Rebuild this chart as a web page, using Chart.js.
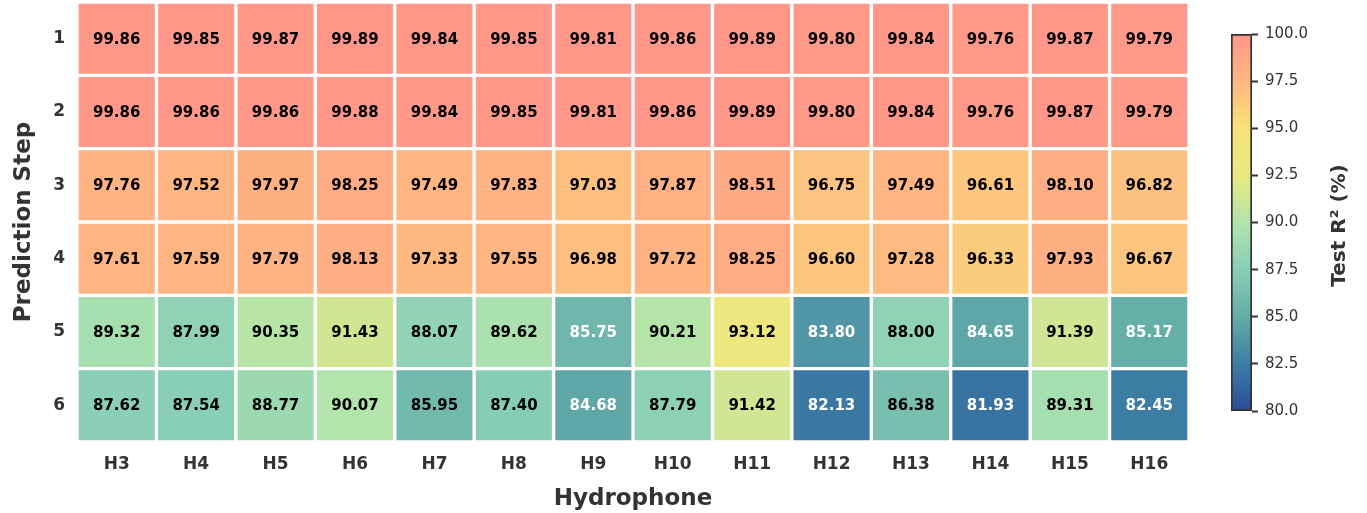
<!DOCTYPE html>
<html>
<head>
<meta charset="utf-8">
<script src="https://cdn.jsdelivr.net/npm/chart.js@4.4.1/dist/chart.umd.min.js"></script>
<style>
  html, body { margin: 0; padding: 0; background: #fff; }
  #wrap { position: relative; width: 1367px; height: 513px; }
  #heat { position: absolute; left: 0; top: 0; }
  #cbar { position: absolute; left: 1226px; top: 22px; }
</style>
</head>
<body>
<div id="wrap">
  <canvas id="heat" width="1367" height="513"></canvas>
  <canvas id="cbar" width="141" height="400"></canvas>
</div>
<script>
// Hydrophones (columns) and prediction steps (rows)
const hydrophones = ['H3', 'H4', 'H5', 'H6', 'H7', 'H8', 'H9', 'H10', 'H11', 'H12', 'H13', 'H14', 'H15', 'H16'];
const steps = [1, 2, 3, 4, 5, 6];

// Test R² (%) per prediction step, one value per hydrophone
const step1 = [99.86, 99.85, 99.87, 99.89, 99.84, 99.85, 99.81, 99.86, 99.89, 99.80, 99.84, 99.76, 99.87, 99.79];
const step2 = [99.86, 99.86, 99.86, 99.88, 99.84, 99.85, 99.81, 99.86, 99.89, 99.80, 99.84, 99.76, 99.87, 99.79];
const step3 = [97.76, 97.52, 97.97, 98.25, 97.49, 97.83, 97.03, 97.87, 98.51, 96.75, 97.49, 96.61, 98.10, 96.82];
const step4 = [97.61, 97.59, 97.79, 98.13, 97.33, 97.55, 96.98, 97.72, 98.25, 96.60, 97.28, 96.33, 97.93, 96.67];
const step5 = [89.32, 87.99, 90.35, 91.43, 88.07, 89.62, 85.75, 90.21, 93.12, 83.80, 88.00, 84.65, 91.39, 85.17];
const step6 = [87.62, 87.54, 88.77, 90.07, 85.95, 87.40, 84.68, 87.79, 91.42, 82.13, 86.38, 81.93, 89.31, 82.45];
const stepValues = [step1, step2, step3, step4, step5, step6];

// Colour scale
const cbMin = 80;
const cbMax = 100;
const cbTicks = [80, 82.5, 85, 87.5, 90, 92.5, 95, 97.5, 100];
const cmapLevels = [80, 82.5, 85, 87.5, 90, 92.5, 95, 97.5, 100];
const cmapColors = [
  [44, 76, 150],
  [60, 126, 164],
  [100, 172, 167],
  [136, 206, 182],
  [176, 228, 172],
  [234, 232, 128],
  [247, 226, 122],
  [255, 182, 130],
  [255, 150, 137]
];
const cbTitleText = 'Test R\u00B2 (%)';

function cmap(v) {
  const x = Math.min(cbMax, Math.max(cbMin, v));
  for (let i = 0; i < cmapLevels.length - 1; i++) {
    const a = cmapLevels[i], b = cmapLevels[i + 1];
    if (x <= b) {
      const t = (x - a) / (b - a);
      const c0 = cmapColors[i], c1 = cmapColors[i + 1];
      const c = c0.map((ch, k) => Math.round(ch + (c1[k] - ch) * t));
      return `rgb(${c[0]},${c[1]},${c[2]})`;
    }
  }
  const c = cmapColors[cmapColors.length - 1];
  return `rgb(${c[0]},${c[1]},${c[2]})`;
}

Chart.defaults.font.family = "'DejaVu Sans', sans-serif";
Chart.defaults.color = '#333';

// Fixed axis footprint, without the extra edge padding for tick labels
function fixSize(width, height) {
  return (s) => {
    if (width !== null) s.width = width;
    if (height !== null) s.height = height;
    s.paddingTop = 0; s.paddingBottom = 0; s.paddingLeft = 0; s.paddingRight = 0;
  };
}

// Value text centred in each cell
const cellLabels = {
  id: 'cellLabels',
  afterDatasetsDraw(chart) {
    const ctx = chart.ctx;
    ctx.save();
    ctx.font = "bold 15px 'DejaVu Sans', sans-serif";
    ctx.textAlign = 'center';
    ctx.textBaseline = 'middle';
    chart.data.datasets.forEach((ds, di) => {
      chart.getDatasetMeta(di).data.forEach((bar, i) => {
        const v = ds.values[i];
        const p = bar.getCenterPoint();
        ctx.fillStyle = v < 85.9 ? '#ffffff' : '#000000';
        ctx.fillText(v.toFixed(2), p.x, p.y + 1);
      });
    });
    ctx.restore();
  }
};

const datasets = steps.map((s, r) => ({
  label: 'Step ' + s,
  values: stepValues[r],
  data: stepValues[r].map(() => [s - 0.5, s + 0.5]),
  backgroundColor: stepValues[r].map(cmap),
  borderColor: '#ffffff',
  borderWidth: 2,
  borderSkipped: false,
  grouped: false,
  barPercentage: 1,
  categoryPercentage: 1
}));

new Chart(document.getElementById('heat'), {
  type: 'bar',
  data: { labels: hydrophones, datasets },
  options: {
    responsive: false,
    animation: false,
    layout: { padding: { top: 2, right: 178, left: 0, bottom: 0 } },
    plugins: { legend: { display: false }, tooltip: { enabled: false } },
    scales: {
      x: {
        type: 'category',
        grid: { display: false, drawTicks: false },
        border: { display: false },
        ticks: { font: { size: 17, weight: 'bold' }, color: '#333', padding: 12, autoSkip: false, maxRotation: 0 },
        title: { display: true, text: 'Hydrophone', font: { size: 23, weight: 'bold' }, color: '#333', padding: { top: 0, bottom: 0 } },
        afterFit: fixSize(null, 71)
      },
      y: {
        type: 'linear',
        reverse: true,
        min: 0.5,
        max: 6.5,
        afterBuildTicks(s) { s.ticks = steps.map(v => ({ value: v })); },
        grid: { display: false, drawTicks: false },
        border: { display: false },
        ticks: { callback: v => String(v), font: { size: 17, weight: 'bold' }, color: '#333', padding: 12 },
        title: { display: true, text: 'Prediction Step', font: { size: 23, weight: 'bold' }, color: '#333', padding: { top: 10, bottom: 0 } },
        afterFit: fixSize(77, null)
      }
    }
  },
  plugins: [cellLabels]
});

// Colour bar: a single floating bar spanning the scale, filled with the colour map
const cbTitle = {
  id: 'cbTitle',
  afterDraw(chart) {
    const ctx = chart.ctx;
    const a = chart.chartArea;
    ctx.save();
    ctx.translate(114, (a.top + a.bottom) / 2 + 3);
    ctx.rotate(-Math.PI / 2);
    ctx.font = "bold 20px 'DejaVu Sans', sans-serif";
    ctx.fillStyle = '#333';
    ctx.textAlign = 'center';
    ctx.textBaseline = 'middle';
    ctx.fillText(cbTitleText, 0, 0);
    ctx.restore();
  }
};

function cbGradient(context) {
  const chart = context.chart;
  if (!chart.chartArea) return null;
  const ys = chart.scales.y;
  const y0 = ys.getPixelForValue(cbMin);
  const y1 = ys.getPixelForValue(cbMax);
  const g = chart.ctx.createLinearGradient(0, y0, 0, y1);
  cmapLevels.forEach(v => g.addColorStop((v - cbMin) / (cbMax - cbMin), cmap(v)));
  return g;
}

new Chart(document.getElementById('cbar'), {
  type: 'bar',
  data: {
    labels: [''],
    datasets: [{
      data: [[cbMin, cbMax]],
      backgroundColor: cbGradient,
      borderColor: '#333',
      borderWidth: 2,
      borderSkipped: false,
      barPercentage: 1,
      categoryPercentage: 1
    }]
  },
  options: {
    responsive: false,
    animation: false,
    layout: { padding: { left: 5, top: 12, bottom: 11, right: 0 } },
    plugins: { legend: { display: false }, tooltip: { enabled: false } },
    scales: {
      x: { display: false },
      y: {
        position: 'right',
        min: cbMin,
        max: cbMax,
        afterBuildTicks(s) { s.ticks = cbTicks.map(v => ({ value: v })); },
        ticks: { callback: v => v.toFixed(1), font: { size: 15 }, color: '#333', padding: 7 },
        grid: { drawOnChartArea: false, drawTicks: true, tickLength: 6, tickWidth: 2, tickColor: '#333' },
        border: { display: false },
        afterFit: fixSize(115, null)
      }
    }
  },
  plugins: [cbTitle]
});
</script>
</body>
</html>
